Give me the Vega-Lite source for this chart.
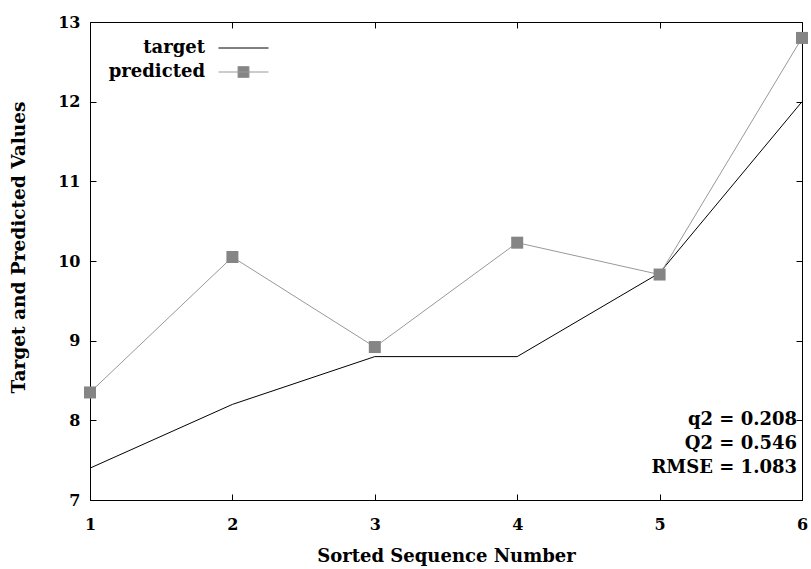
{
  "$schema": "https://vega.github.io/schema/vega-lite/v6.json",
  "width": 712,
  "height": 478,
  "autosize": {"type": "none"},
  "padding": {"left": 90, "top": 22, "right": 9, "bottom": 69},
  "background": "white",
  "config": {
    "font": "DejaVu Serif",
    "view": {"stroke": "black", "strokeWidth": 1},
    "axis": {
      "grid": false,
      "labelFont": "DejaVu Serif",
      "labelFontSize": 16,
      "labelFontWeight": "bold",
      "labelColor": "black",
      "titleFont": "DejaVu Serif",
      "titleFontSize": 18,
      "titleFontWeight": "bold",
      "titleColor": "black",
      "domainColor": "black",
      "tickColor": "black",
      "tickSize": -6,
      "tickWidth": 1
    },
    "legend": {
      "labelFont": "DejaVu Serif",
      "labelFontSize": 18,
      "labelFontWeight": "bold",
      "labelColor": "black"
    }
  },
  "data": {
    "values": [
      {"seq": 1, "series": "target", "value": 7.4},
      {"seq": 2, "series": "target", "value": 8.2},
      {"seq": 3, "series": "target", "value": 8.8},
      {"seq": 4, "series": "target", "value": 8.8},
      {"seq": 5, "series": "target", "value": 9.85},
      {"seq": 6, "series": "target", "value": 12.0},
      {"seq": 1, "series": "predicted", "value": 8.35},
      {"seq": 2, "series": "predicted", "value": 10.05},
      {"seq": 3, "series": "predicted", "value": 8.92},
      {"seq": 4, "series": "predicted", "value": 10.23},
      {"seq": 5, "series": "predicted", "value": 9.83},
      {"seq": 6, "series": "predicted", "value": 12.8}
    ]
  },
  "layer": [
    {
      "mark": {"type": "line", "strokeWidth": 1},
      "encoding": {
        "x": {
          "field": "seq", "type": "quantitative",
          "scale": {"domain": [1, 6], "nice": false, "zero": false},
          "axis": {"orient": "bottom", "values": [1, 2, 3, 4, 5, 6], "format": "d", "labelPadding": 22, "title": "Sorted Sequence Number", "titleY": 61, "titleBaseline": "alphabetic", "labelFlush": false}
        },
        "y": {
          "field": "value", "type": "quantitative",
          "scale": {"domain": [7, 13], "nice": false, "zero": false},
          "axis": {"orient": "left", "values": [7, 8, 9, 10, 11, 12, 13], "format": "d", "labelPadding": 16, "title": "Target and Predicted Values", "titleFontSize": 18.5, "titleX": -72, "titleY": 225, "titleAlign": "center", "titleBaseline": "middle", "titleAngle": -90}
        },
        "color": {
          "field": "series", "type": "nominal",
          "scale": {"domain": ["target", "predicted"], "range": ["#000000", "#999999"]},
          "legend": {
            "title": null,
            "orient": "none",
            "legendX": 128,
            "legendY": 14,
            "padding": 0,
            "symbolSize": 100,
            "clipHeight": 24,
            "labelAlign": "right",
            "labelOffset": -64,
            "rowPadding": 0,
            "encode": {
              "entries": {
                "update": {
                  "width": {"value": 70},
                  "height": {"value": 24}
                }
              },
              "symbols": {
                "update": {
                  "shape": {"signal": "datum.value === 'predicted' ? 'M-1,0H1M-0.22,-0.22H0.22V0.22H-0.22Z' : 'M-1,0H1'"},
                  "fill": {"signal": "datum.value === 'predicted' ? '#858585' : 'transparent'"},
                  "stroke": {"signal": "datum.value === 'predicted' ? '#999999' : '#000000'"},
                  "size": {"value": 2500},
                  "strokeWidth": {"value": 1},
                  "opacity": {"value": 1}
                }
              }
            }
          }
        }
      }
    },
    {
      "transform": [{"filter": "datum.series === 'predicted'"}],
      "mark": {"type": "point", "shape": "square", "filled": true, "size": 144, "color": "#858585", "opacity": 1},
      "encoding": {
        "x": {
          "field": "seq", "type": "quantitative",
          "axis": {"orient": "top", "values": [1, 2, 3, 4, 5, 6], "labels": false, "title": null, "domain": false}
        },
        "y": {
          "field": "value", "type": "quantitative",
          "axis": {"orient": "right", "values": [7, 8, 9, 10, 11, 12, 13], "labels": false, "title": null, "domain": false}
        }
      }
    },
    {
      "data": {"values": [{"stats": "q2 = 0.208\nQ2 = 0.546\nRMSE = 1.083"}]},
      "mark": {
        "type": "text",
        "lineBreak": "\n",
        "align": "right",
        "baseline": "middle",
        "font": "DejaVu Serif",
        "fontSize": 18,
        "fontWeight": "bold",
        "color": "black",
        "lineHeight": 24,
        "x": {"expr": "width - 5"},
        "y": {"expr": "height - 80"}
      },
      "encoding": {"text": {"field": "stats", "type": "nominal"}}
    }
  ]
}
